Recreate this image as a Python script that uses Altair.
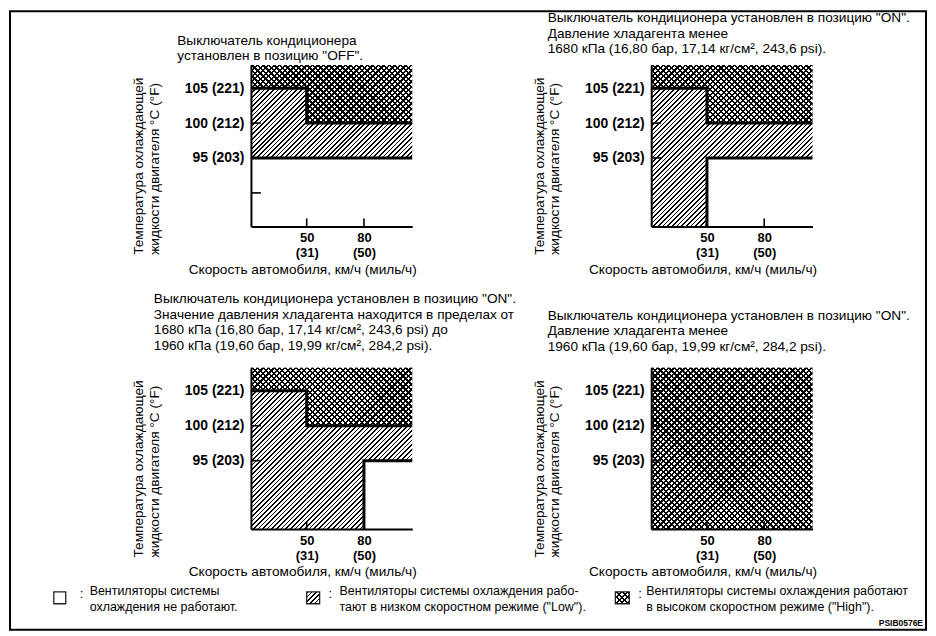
import json
import math
import altair as alt
import pandas as pd

# ---------------- data ----------------
X_TICKS = [50, 80]
X_TICK_LABELS = [["50", "(31)"], ["80", "(50)"]]
Y_TICKS = [105, 100, 95]
Y_TICK_LABELS = ["105 (221)", "100 (212)", "95 (203)"]
Y_EXTRA_TICKS = [[90], [], [], []]          # unlabeled tick, top-left panel only

X_DOMAIN = [20.8, 105.3]                     # km/h shown along the x axis
Y_DOMAIN = [85.2, 108.3]                     # deg C shown along the y axis

X_TITLE = "Скорость автомобиля, км/ч (миль/ч)"
Y_TITLE = ["Температура охлаждающей", "жидкости двигателя °C (°F)"]

PANEL_TITLES = [
    ["Выключатель кондиционера", "установлен в позицию \"OFF\"."],
    ["Выключатель кондиционера установлен в позицию \"ON\".",
     "Давление хладагента менее",
     "1680 кПа (16,80 бар, 17,14 кг/см², 243,6 psi)."],
    ["Выключатель кондиционера установлен в позицию \"ON\".",
     "Значение давления хладагента находится в пределах от",
     "1680 кПа (16,80 бар, 17,14 кг/см², 243,6 psi) до",
     "1960 кПа (19,60 бар, 19,99 кг/см², 284,2 psi)."],
    ["Выключатель кондиционера установлен в позицию \"ON\".",
     "Давление хладагента менее",
     "1960 кПа (19,60 бар, 19,99 кг/см², 284,2 psi)."],
]

XL, XR = X_DOMAIN
YB, YT = Y_DOMAIN
# fan-mode zones: (speed from, speed to, temp from, temp to)
HIGH_ZONES = [
    [(XL, 50, 105, YT), (50, XR, 100, YT)],
    [(XL, 50, 105, YT), (50, XR, 100, YT)],
    [(XL, 50, 105, YT), (50, XR, 100, YT)],
    [(XL, XR, YB, YT)],
]
LOW_ZONES = [
    [(XL, 50, 95, 105), (50, XR, 95, 100)],
    [(XL, 50, YB, 105), (50, XR, 95, 100)],
    [(XL, 50, YB, 105), (50, 80, YB, 100), (80, XR, 95, 100)],
    [],
]
# zone boundary lines (speed, temp) vertices
BOUNDARIES = [
    [[(XL, 105), (50, 105), (50, 100), (XR, 100)], [(XL, 95), (XR, 95)]],
    [[(XL, 105), (50, 105), (50, 100), (XR, 100)], [(50, YB), (50, 95), (XR, 95)]],
    [[(XL, 105), (50, 105), (50, 100), (XR, 100)], [(80, YB), (80, 95), (XR, 95)]],
    [],
]

LEGEND_KINDS = ["off", "low", "high"]
LEGEND_TEXTS = [
    "Вентиляторы системы\nохлаждения не работают.",
    "Вентиляторы системы охлаждения рабо-\nтают в низком скоростном режиме (\"Low\").",
    "Вентиляторы системы охлаждения работают\nв высоком скоростном режиме (\"High\").",
]
CODE_TEXT = "PSIB0576E"

# ---------------- layout / style ----------------
W = H = 162
PX = W / (XR - XL)
PY = H / (YT - YB)
FONT = "Liberation Sans"
TXT = 13.7
TITLE_POS = [(-74, -20.3), (-104, -43), (-97.5, -65.3), (-104, -48)]
TITLE_LH = [15.6, 15.5, 15.9, 15.5]
HATCH_P, HATCH_DUTY = 3.3, 0.36
CROSS_P, CROSS_DUTY = 3.9, 0.42


def stripe_gradient(X0, Y0, w, h, direction, period, duty, on, off):
    L = w + h
    P = period * math.sqrt(2)
    if direction == "/":
        s0 = X0 + Y0
        lam = L / (w * w + h * h)
        x1, y1, x2, y2 = 0, 0, lam * w, lam * h
    else:
        s0 = X0 - Y0 - h
        mu = L / (w * w + h * h)
        x1, y1, x2, y2 = 0, 1, mu * w, 1 - mu * h
    stops = []

    def add(t, c):
        stops.append(alt.GradientStop(offset=round(min(max(t, 0.0), 1.0), 5), color=c))

    k = math.floor(s0 / P) - 1
    while k * P < s0 + L:
        a = (k * P - s0) / L
        b = (k * P + duty * P - s0) / L
        c = ((k + 1) * P - s0) / L
        if b > 0 and a < 1:
            add(a, on)
            add(b, on)
        if c > 0 and b < 1:
            add(b, off)
            add(c, off)
        k += 1
    return alt.Gradient(gradient="linear", stops=stops, x1=x1, y1=y1, x2=x2, y2=y2)


def build_expr(vals, labels):
    expr = "''"
    for v, lab in reversed(list(zip(vals, labels))):
        expr = f"datum.value == {v} ? {json.dumps(lab, ensure_ascii=False)} : {expr}"
    return expr


xscale = alt.Scale(domain=X_DOMAIN, nice=False, zero=False)
yscale = alt.Scale(domain=Y_DOMAIN, nice=False, zero=False)

x_axis = alt.Axis(
    values=X_TICKS, labelExpr=build_expr(X_TICKS, X_TICK_LABELS), title=X_TITLE,
    ticks=False, tickSize=0, grid=False, domainColor="black", domainWidth=2,
    labelFont=FONT, labelFontSize=13, labelFontWeight="bold", labelColor="black",
    labelLineHeight=15.5, labelBaseline="top", labelPadding=5, labelAlign="center",
    labelFlush=False, labelOverlap=False,
    titleX=-63, titleY=47, titleAlign="left", titleBaseline="alphabetic", titleAngle=0,
    titleFont=FONT, titleFontSize=TXT, titleFontWeight="normal", titleColor="black",
    zindex=1,
)
y_axis = alt.Axis(
    values=Y_TICKS, labelExpr=build_expr(Y_TICKS, Y_TICK_LABELS), title=Y_TITLE,
    ticks=False, tickSize=0, grid=False, domainColor="black", domainWidth=2,
    labelFont=FONT, labelFontSize=14, labelFontWeight="bold", labelColor="black",
    labelBaseline="middle", labelPadding=7, labelAlign="right",
    labelFlush=False, labelOverlap=False,
    titleX=-108.5, titleY=190, titleAlign="left", titleBaseline="alphabetic", titleAngle=270,
    titleLineHeight=15.5, titleFont=FONT, titleFontSize=TXT, titleFontWeight="normal",
    titleColor="black", zindex=1,
)
X = alt.X("x:Q", scale=xscale, axis=x_axis)
Y = alt.Y("y:Q", scale=yscale, axis=y_axis)


def zone_px(z):
    x0, x1, y0, y1 = z
    return (x0 - XL) * PX, (YT - y1) * PY, (x1 - x0) * PX, (y1 - y0) * PY


def zone_layers(z, kind):
    df = pd.DataFrame({"x": [z[0]], "x2": [z[1]], "y": [z[2]], "y2": [z[3]]})
    X0, Y0, w, h = zone_px(z)
    enc = dict(x=X, x2="x2:Q", y=Y, y2="y2:Q")
    if kind == "low":
        g = stripe_gradient(X0, Y0, w, h, "/", HATCH_P, HATCH_DUTY, "black", "white")
        return [alt.Chart(df).mark_rect(fill=g).encode(**enc)]
    g1 = stripe_gradient(X0, Y0, w, h, "/", CROSS_P, CROSS_DUTY, "black", "white")
    g2 = stripe_gradient(X0, Y0, w, h, "\\", CROSS_P, CROSS_DUTY, "black", "rgba(0,0,0,0)")
    return [alt.Chart(df).mark_rect(fill=g1).encode(**enc),
            alt.Chart(df).mark_rect(fill=g2).encode(**enc)]


def panel(i, extra=()):
    layers = []
    for z in LOW_ZONES[i]:
        layers += zone_layers(z, "low")
    for z in HIGH_ZONES[i]:
        layers += zone_layers(z, "high")
    rows = []
    for si, pts in enumerate(BOUNDARIES[i]):
        for oi, (x, y) in enumerate(pts):
            rows.append({"seg": si, "ord": oi, "x": x, "y": y})
    if rows:
        layers.append(
            alt.Chart(pd.DataFrame(rows)).mark_line(color="black", strokeWidth=3, strokeJoin="miter")
            .encode(x=X, y=Y, detail="seg:N", order="ord:Q")
        )
    layers.append(
        alt.Chart(pd.DataFrame({"y": Y_TICKS + Y_EXTRA_TICKS[i]}))
        .mark_rule(color="black", strokeWidth=1.6)
        .encode(y=Y, x=alt.value(0), x2=alt.value(10))
    )
    layers.append(
        alt.Chart(pd.DataFrame({"x": X_TICKS}))
        .mark_rule(color="black", strokeWidth=1.6)
        .encode(x=X, y=alt.value(H), y2=alt.value(H - 8))
    )
    dx, dy = TITLE_POS[i]
    layers.append(
        alt.Chart(pd.DataFrame({"t": ["\n".join(PANEL_TITLES[i])]}))
        .mark_text(align="left", baseline="alphabetic", fontSize=TXT, lineHeight=TITLE_LH[i],
                   lineBreak="\n", color="black", font=FONT)
        .encode(text="t:N", x=alt.value(dx), y=alt.value(dy))
    )
    layers += list(extra)
    return alt.layer(*layers).properties(width=W, height=H)


# ---- decorations drawn from the bottom-left panel (page frame, legend, code) ----
ICON_X = [(-198, -186), (56, 69), (366, 380)]
ICON_Y = (225, 237)
COLON_X = [-172, 78, 389]
TEXT_X = [-162, 89, 397]
deco = []
one = pd.DataFrame({"k": [0]})
deco.append(
    alt.Chart(one).mark_rect(fill="transparent", stroke="black", strokeWidth=2)
    .encode(x=alt.value(-242), x2=alt.value(678), y=alt.value(-358), y2=alt.value(263))
)
for j, kind in enumerate(LEGEND_KINDS):
    ix0, ix1 = ICON_X[j]
    iy0, iy1 = ICON_Y
    w, h = ix1 - ix0, iy1 - iy0
    pos = dict(x=alt.value(ix0), x2=alt.value(ix1), y=alt.value(iy0), y2=alt.value(iy1))
    if kind == "low":
        deco.append(alt.Chart(one).mark_rect(
            fill=stripe_gradient(0, 0, w, h, "/", HATCH_P, HATCH_DUTY, "black", "white")).encode(**pos))
    elif kind == "high":
        deco.append(alt.Chart(one).mark_rect(
            fill=stripe_gradient(0, 0, w, h, "/", CROSS_P, CROSS_DUTY, "black", "white")).encode(**pos))
        deco.append(alt.Chart(one).mark_rect(
            fill=stripe_gradient(0, 0, w, h, "\\", CROSS_P, CROSS_DUTY, "black", "rgba(0,0,0,0)")).encode(**pos))
    deco.append(alt.Chart(one).mark_rect(fill="transparent", stroke="#222", strokeWidth=1.3).encode(**pos))
    deco.append(
        alt.Chart(one).mark_text(align="left", baseline="alphabetic", fontSize=13, color="black", font=FONT)
        .encode(text=alt.value(":"), x=alt.value(COLON_X[j]), y=alt.value(231))
    )
    deco.append(
        alt.Chart(pd.DataFrame({"t": [LEGEND_TEXTS[j]]}))
        .mark_text(align="left", baseline="alphabetic", fontSize=12.5, lineHeight=16.5, lineBreak="\n",
                   color="black", font=FONT)
        .encode(text="t:N", x=alt.value(TEXT_X[j]), y=alt.value(228))
    )
deco.append(
    alt.Chart(pd.DataFrame({"t": [CODE_TEXT]}))
    .mark_text(align="right", baseline="alphabetic", fontSize=8.5, fontWeight="bold", color="black",
               font=FONT)
    .encode(text="t:N", x=alt.value(675), y=alt.value(259.5))
)

chart = alt.concat(
    panel(0), panel(1), panel(2, deco), panel(3),
    columns=2, spacing={"column": 240, "row": 142}, bounds="flush",
).properties(padding=0).configure(font=FONT).configure_view(stroke="transparent")

chart.save("out.html", embed_options={"renderer": "svg", "actions": False})
